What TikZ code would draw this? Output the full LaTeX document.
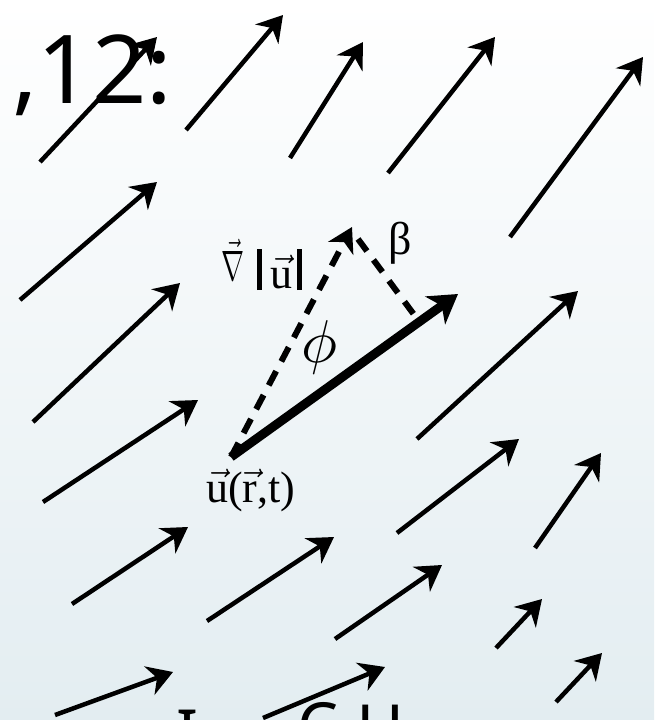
\documentclass[tikz,border=0pt]{standalone}
\usepackage{fix-cm}
\usepackage{fontspec}
\setmainfont{Liberation Serif}
\newfontfamily\numfont{Noto Sans}
\usepackage{graphicx}
\usetikzlibrary{arrows.meta}
\definecolor{bgmid}{RGB}{242,246,248}
\definecolor{bgbot}{RGB}{227,237,241}
\tikzset{
 vec/.style={line width=4.5pt,-{Stealth[length=25pt,width=30pt,inset=8pt]}},
 mainvec/.style={line width=9pt,-{Stealth[length=28pt,width=34pt,inset=8pt]}},
 gradvec/.style={line width=6pt,dash pattern=on 16pt off 11pt,-{Stealth[length=24pt,width=28pt,inset=7pt]}},
 projline/.style={line width=6pt,dash pattern=on 15pt off 11pt},
 serif/.style={font=\fontsize{44}{48}\selectfont, inner sep=0pt},
 bigsans/.style={font=\numfont\fontsize{95}{95}\selectfont, inner sep=0pt},
 cutsans/.style={font=\numfont\fontsize{65}{65}\selectfont, inner sep=0pt},
}
\begin{document}
\begin{tikzpicture}[x=1pt,y=-1pt]
\useasboundingbox (0,0) rectangle (654,720);
\clip (0,0) rectangle (654,720);
\shade[top color=white, middle color=bgmid, bottom color=bgbot] (0,0) rectangle (654,720);
% field of vectors
\foreach \n/\ax/\ay/\bx/\by in {
 1/40/162/157/37, 2/186/130/283/15, 3/290/158/363/42, 4/388/173/495/37,
 5/510/237/643/57, 6/20/300/157/182, 7/33/422/180/283, 8/43/502/198/400,
 9/417/439/578/291, 10/397/533/519/439, 11/535/548/601/453,
 12/72/604/188/527, 13/207/621/334/537, 14/335/639/442/565,
 15/496/648/542/599, 16/556/702/602/653, 17/55/715/173/672, 18/263/718/385/667}{
 \coordinate (t\n) at (\ax,\ay);
 \coordinate (h\n) at (\bx,\by);
 \draw[vec] (t\n) -- (h\n);
}
% main construction
\coordinate (u0) at (231,457);
\coordinate (utip) at (458,294);
\coordinate (gtip) at (352,227);
\coordinate (pstart) at (358,239);
\coordinate (pfoot) at (418,320);
\draw[gradvec] (u0) -- (gtip);
\draw[projline] (pstart) -- (pfoot);
\draw[mainvec] (u0) -- (utip);
% labels
\node[serif, anchor=base west] (gradlabel) at (221,288)
 {\raisebox{8pt}{\resizebox{23pt}{41pt}{$\vec{\nabla}$}}\hspace{13pt}\rule[-2pt]{5pt}{41pt}\hspace{8pt}$\vec{\mathrm{u}}$\hspace{5pt}\rule[-2pt]{5pt}{41pt}};
\node[inner sep=0pt, font=\fontsize{46}{50}\selectfont] (betalabel) at (400,243) {β};
\node[inner sep=0pt] (philabel) at (320,347) {\resizebox{36pt}{!}{$\phi$}};
\node[serif, anchor=base west] (ulabel) at (206,502) {$\vec{\mathrm{u}}$($\vec{\mathrm{r}}$,t)};
% large sans text
\node[bigsans, anchor=base west] (toptext) at (12,103) {,12:};
\node[cutsans, anchor=base west] (cutI) at (176,756) {I};
\node[cutsans, anchor=base west] (cutC) at (297,749) {C};
\node[cutsans, anchor=base west] (cutH) at (356,751) {H};
\end{tikzpicture}
\end{document}
